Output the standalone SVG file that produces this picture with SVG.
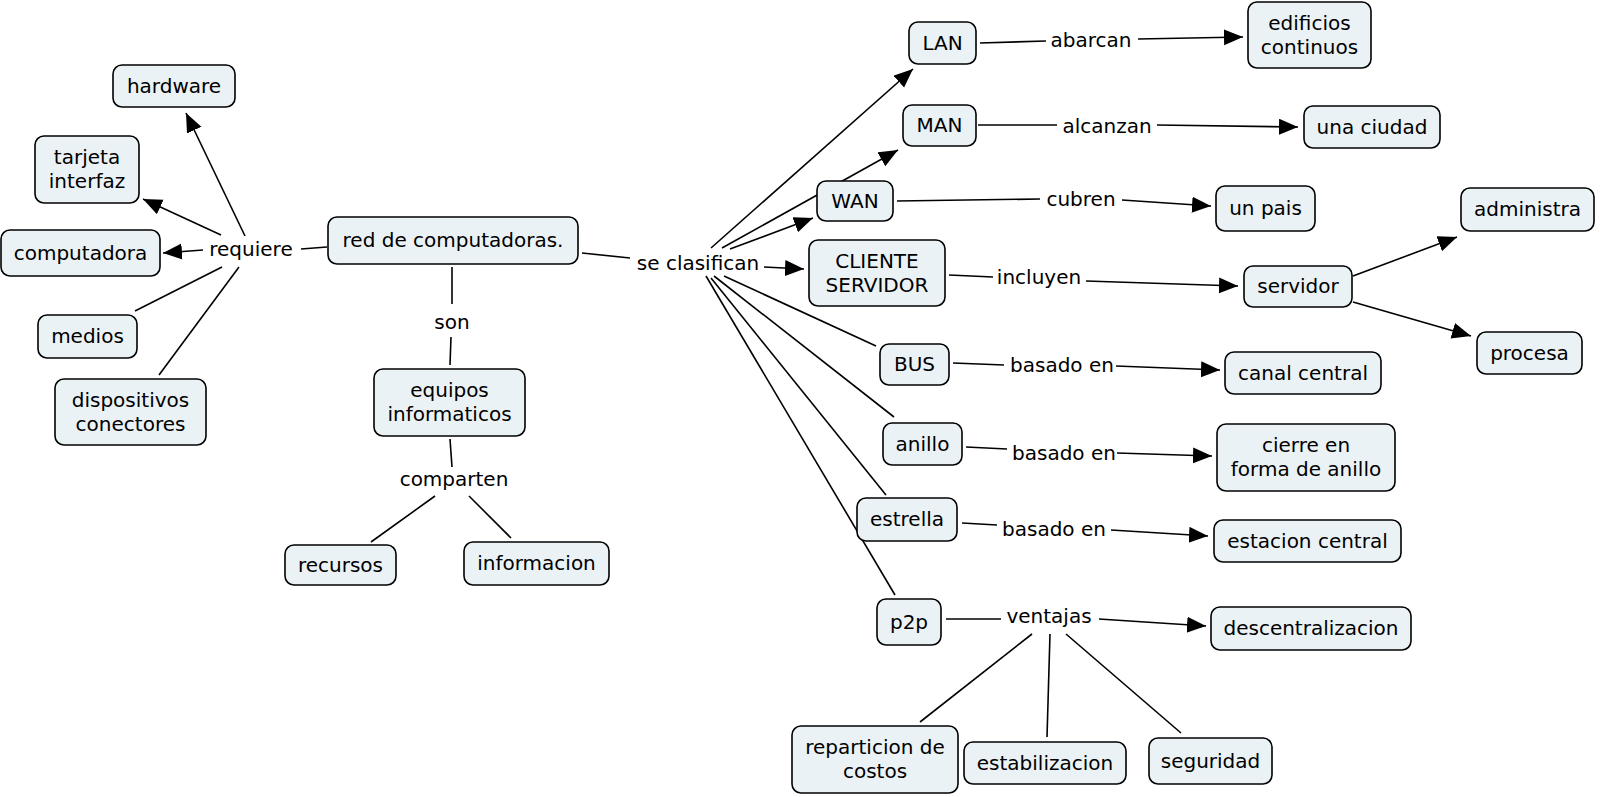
<svg xmlns="http://www.w3.org/2000/svg" width="1600" height="797" viewBox="0 0 1600 797">
<style>
.n rect{fill:#ebf2f5;stroke:#000;stroke-width:1.6}
text{font-family:"DejaVu Sans","Liberation Sans",sans-serif;font-size:20px;fill:#000;text-anchor:middle}
.c line{stroke:#000;stroke-width:1.6}
.a{marker-end:url(#ah)}
</style>
<defs>
<marker id="ah" markerUnits="userSpaceOnUse" markerWidth="20" markerHeight="18" refX="19" refY="8" orient="auto">
<path d="M0,0 L19,8 L0,16 z" fill="#000"/>
</marker>
</defs>
<rect width="1600" height="797" fill="#fff"/>
<g id="connectors" class="c">
<line x1="327" y1="247" x2="301" y2="249"/>
<line class="a" x1="203" y1="250" x2="163" y2="253"/>
<line class="a" x1="221" y1="235" x2="143" y2="199"/>
<line class="a" x1="245" y1="236" x2="186" y2="113"/>
<line x1="222" y1="267" x2="135" y2="311"/>
<line x1="239" y1="267" x2="159" y2="375"/>
<line x1="452" y1="267" x2="452" y2="304"/>
<line x1="451" y1="337" x2="450" y2="365"/>
<line x1="450" y1="439" x2="452" y2="467"/>
<line x1="435" y1="496" x2="371" y2="542"/>
<line x1="469" y1="496" x2="511" y2="538"/>
<line x1="582" y1="253" x2="630" y2="258"/>
<line class="a" x1="711" y1="248" x2="913" y2="69"/>
<line class="a" x1="722" y1="248" x2="898" y2="150"/>
<line class="a" x1="730" y1="249" x2="813" y2="218"/>
<line class="a" x1="764" y1="267" x2="804" y2="269"/>
<line x1="724" y1="276" x2="876" y2="346"/>
<line x1="714" y1="276" x2="894" y2="417"/>
<line x1="711" y1="278" x2="886" y2="495"/>
<line x1="706" y1="276" x2="895" y2="595"/>
<line x1="980" y1="43" x2="1046" y2="41"/>
<line class="a" x1="1138" y1="39" x2="1243" y2="37"/>
<line x1="978" y1="125" x2="1057" y2="125"/>
<line class="a" x1="1157" y1="125" x2="1298" y2="127"/>
<line x1="897" y1="201" x2="1040" y2="199"/>
<line class="a" x1="1122" y1="200" x2="1211" y2="206"/>
<line x1="949" y1="275" x2="993" y2="277"/>
<line class="a" x1="1086" y1="281" x2="1238" y2="286"/>
<line class="a" x1="1353" y1="276" x2="1457" y2="237"/>
<line class="a" x1="1353" y1="302" x2="1471" y2="336"/>
<line x1="953" y1="363" x2="1004" y2="365"/>
<line class="a" x1="1116" y1="366" x2="1220" y2="370"/>
<line x1="966" y1="447" x2="1007" y2="449"/>
<line class="a" x1="1117" y1="453" x2="1212" y2="456"/>
<line x1="962" y1="523" x2="997" y2="525"/>
<line class="a" x1="1111" y1="530" x2="1208" y2="536"/>
<line x1="946" y1="619" x2="1001" y2="619"/>
<line class="a" x1="1099" y1="619" x2="1206" y2="626"/>
<line x1="1032" y1="634" x2="920" y2="722"/>
<line x1="1050" y1="634" x2="1047" y2="737"/>
<line x1="1066" y1="634" x2="1181" y2="733"/>
</g>
<g id="labels">
<text x="251" y="256">requiere</text>
<text x="452" y="329">son</text>
<text x="454" y="486">comparten</text>
<text x="698" y="270">se clasifican</text>
<text x="1091" y="47">abarcan</text>
<text x="1107" y="133">alcanzan</text>
<text x="1081" y="206">cubren</text>
<text x="1039" y="284">incluyen</text>
<text x="1062" y="372">basado en</text>
<text x="1064" y="460">basado en</text>
<text x="1054" y="536">basado en</text>
<text x="1049" y="623">ventajas</text>
</g>
<g id="hardware" class="n"><rect x="113" y="65" width="122" height="42" rx="9"/><text x="174" y="93">hardware</text></g>
<g id="tarjeta" class="n"><rect x="35" y="136" width="104" height="67" rx="9"/><text x="87" y="164">tarjeta</text><text x="87" y="188">interfaz</text></g>
<g id="computadora" class="n"><rect x="1" y="230" width="159" height="46" rx="9"/><text x="80.5" y="260">computadora</text></g>
<g id="medios" class="n"><rect x="38" y="315" width="99" height="43" rx="9"/><text x="87.5" y="343">medios</text></g>
<g id="dispositivos" class="n"><rect x="55" y="379" width="151" height="66" rx="9"/><text x="130.5" y="407">dispositivos</text><text x="130.5" y="431">conectores</text></g>
<g id="red" class="n"><rect x="328" y="217" width="250" height="47" rx="9"/><text x="453" y="247">red de computadoras.</text></g>
<g id="equipos" class="n"><rect x="374" y="369" width="151" height="67" rx="9"/><text x="449.5" y="397">equipos</text><text x="449.5" y="421">informaticos</text></g>
<g id="recursos" class="n"><rect x="285" y="545" width="111" height="40" rx="9"/><text x="340.5" y="572">recursos</text></g>
<g id="informacion" class="n"><rect x="464" y="542" width="145" height="43" rx="9"/><text x="536.5" y="570">informacion</text></g>
<g id="lan" class="n"><rect x="909" y="22" width="67" height="42" rx="9"/><text x="942.5" y="50">LAN</text></g>
<g id="edificios" class="n"><rect x="1248" y="2" width="123" height="66" rx="9"/><text x="1309.5" y="30">edificios</text><text x="1309.5" y="54">continuos</text></g>
<g id="man" class="n"><rect x="903" y="105" width="73" height="41" rx="9"/><text x="939.5" y="132">MAN</text></g>
<g id="ciudad" class="n"><rect x="1304" y="106" width="136" height="42" rx="9"/><text x="1372" y="134">una ciudad</text></g>
<g id="wan" class="n"><rect x="817" y="181" width="76" height="40" rx="9"/><text x="855" y="208">WAN</text></g>
<g id="pais" class="n"><rect x="1216" y="186" width="99" height="45" rx="9"/><text x="1265.5" y="215">un pais</text></g>
<g id="cliente" class="n"><rect x="809" y="240" width="136" height="66" rx="9"/><text x="877" y="268">CLIENTE</text><text x="877" y="292">SERVIDOR</text></g>
<g id="servidor" class="n"><rect x="1244" y="266" width="108" height="41" rx="9"/><text x="1298" y="293">servidor</text></g>
<g id="administra" class="n"><rect x="1461" y="188" width="133" height="43" rx="9"/><text x="1527.5" y="216">administra</text></g>
<g id="procesa" class="n"><rect x="1477" y="332" width="105" height="42" rx="9"/><text x="1529.5" y="360">procesa</text></g>
<g id="bus" class="n"><rect x="880" y="344" width="69" height="41" rx="9"/><text x="914.5" y="371">BUS</text></g>
<g id="canal" class="n"><rect x="1225" y="352" width="156" height="42" rx="9"/><text x="1303" y="380">canal central</text></g>
<g id="anillo" class="n"><rect x="883" y="423" width="79" height="42" rx="9"/><text x="922.5" y="451">anillo</text></g>
<g id="cierre" class="n"><rect x="1217" y="424" width="178" height="67" rx="9"/><text x="1306" y="452">cierre en</text><text x="1306" y="476">forma de anillo</text></g>
<g id="estrella" class="n"><rect x="857" y="498" width="100" height="43" rx="9"/><text x="907" y="526">estrella</text></g>
<g id="estacion" class="n"><rect x="1214" y="520" width="187" height="42" rx="9"/><text x="1307.5" y="548">estacion central</text></g>
<g id="p2p" class="n"><rect x="877" y="599" width="64" height="46" rx="9"/><text x="909" y="629">p2p</text></g>
<g id="descentralizacion" class="n"><rect x="1211" y="607" width="200" height="43" rx="9"/><text x="1311" y="635">descentralizacion</text></g>
<g id="reparticion" class="n"><rect x="792" y="726" width="166" height="67" rx="9"/><text x="875" y="754">reparticion de</text><text x="875" y="778">costos</text></g>
<g id="estabilizacion" class="n"><rect x="964" y="742" width="162" height="42" rx="9"/><text x="1045" y="770">estabilizacion</text></g>
<g id="seguridad" class="n"><rect x="1149" y="738" width="123" height="46" rx="9"/><text x="1210.5" y="768">seguridad</text></g>
</svg>
